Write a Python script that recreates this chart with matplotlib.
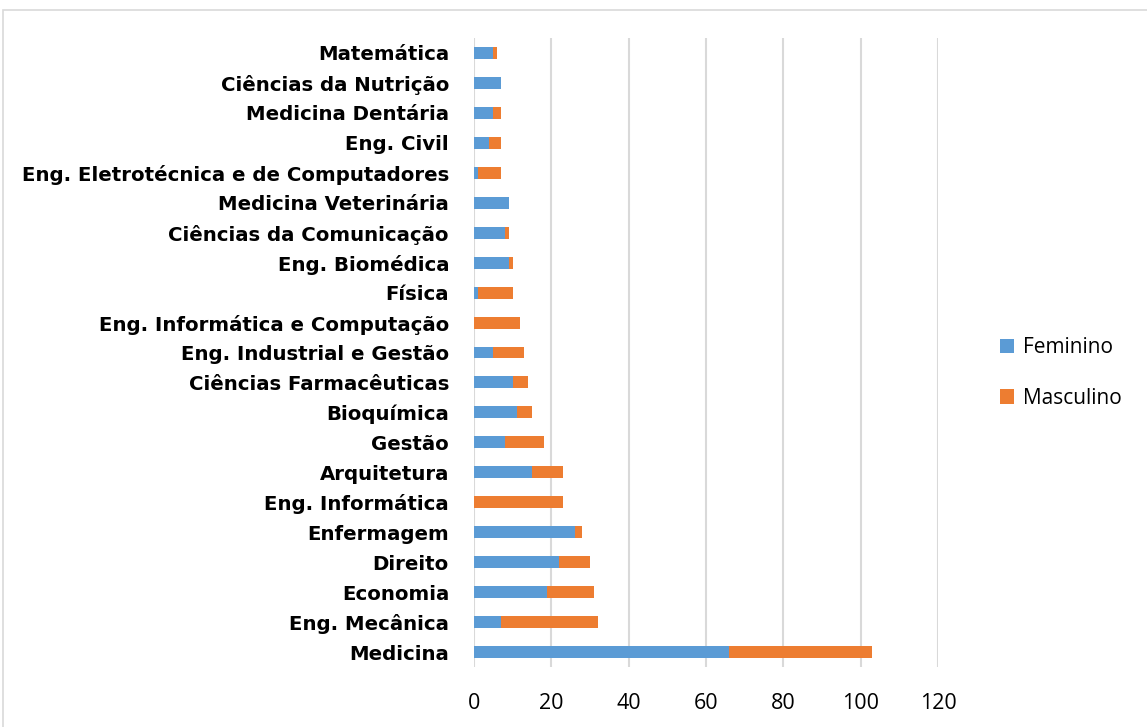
import matplotlib
matplotlib.use("Agg")
import matplotlib.pyplot as plt
from matplotlib.patches import Rectangle
import numpy as np

# categories from bottom to top, as in the chart
cursos = ["Medicina", "Eng. Mecânica", "Economia", "Direito", "Enfermagem",
          "Eng. Informática", "Arquitetura", "Gestão", "Bioquímica",
          "Ciências Farmacêuticas", "Eng. Industrial e Gestão",
          "Eng. Informática e Computação", "Física", "Eng. Biomédica",
          "Ciências da Comunicação", "Medicina Veterinária",
          "Eng. Eletrotécnica e de Computadores", "Eng. Civil",
          "Medicina Dentária", "Ciências da Nutrição", "Matemática"]
feminino = [66, 7, 19, 22, 26, 0, 15, 8, 11, 10, 5, 0, 1, 9, 8, 9, 1, 4, 5, 7, 5]
masculino = [37, 25, 12, 8, 2, 23, 8, 10, 4, 4, 8, 12, 9, 1, 1, 0, 6, 3, 2, 0, 1]
x_ticks = [0, 20, 40, 60, 80, 100, 120]

azul = "#5B9BD5"
laranja = "#ED7D31"
cinza = "#D9D9D9"

W, H = 1147, 727
fig = plt.figure(figsize=(W / 100, H / 100), dpi=100)

# chart frame (light gray border, runs off right/bottom)
fig.patches.append(Rectangle((3 / W, -0.1), 1.2, 1 - 10 / H + 0.1,
                             transform=fig.transFigure, fill=False,
                             edgecolor=cinza, linewidth=1.2))

ax = fig.add_axes([474 / W, (H - 667) / H, (938 - 474) / W, (667 - 38) / H])

y = np.arange(len(cursos))
ax.barh(y, feminino, height=0.4, color=azul, label="Feminino", zorder=3)
ax.barh(y, masculino, height=0.4, left=feminino, color=laranja,
        label="Masculino", zorder=3)

ax.set_xlim(0, 120)
ax.set_ylim(-0.5, len(cursos) - 0.5)
ax.set_xticks(x_ticks)
ax.set_xticklabels([str(t) for t in x_ticks], fontsize=15.5,
                   family=["Open Sans", "DejaVu Sans"])
ax.set_yticks(y)
ax.set_yticklabels(cursos, fontsize=14.2, fontweight="bold",
                   family=["DejaVu Sans"])
ax.tick_params(axis="x", length=0, pad=19, colors="#000000")
ax.tick_params(axis="y", length=0, pad=18)
ax.grid(axis="x", color=cinza, linewidth=1.5, zorder=0)
for s in ax.spines.values():
    s.set_visible(False)

leg = fig.legend(loc="center left", bbox_to_anchor=(981 / W, 1 - 373 / H),
                 frameon=False, handlelength=0.7, handleheight=0.7,
                 labelspacing=1.4, handletextpad=0.4,
                 prop={"family": ["Open Sans", "DejaVu Sans"], "size": 15})

fig.savefig("out.png", dpi=100)
